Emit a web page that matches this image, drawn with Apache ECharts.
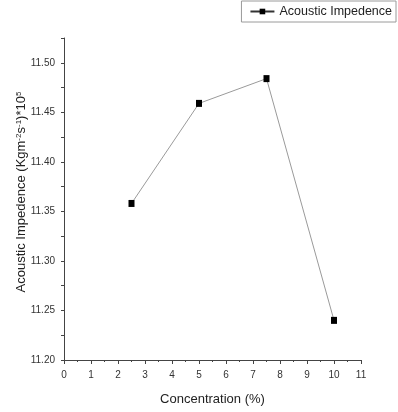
<!DOCTYPE html>
<html>
<head>
<meta charset="utf-8">
<script src="https://cdn.jsdelivr.net/npm/echarts@6/dist/echarts.min.js"></script>
<style>
  html, body { margin: 0; padding: 0; background: #fff; }
  #chart { width: 398px; height: 412px; }
</style>
</head>
<body>
<div id="chart"></div>
<script>
const concentration = [2.5, 5, 7.5, 10];
const impedance = [11.358, 11.459, 11.484, 11.240];
const seriesName = 'Acoustic Impedence';

const font = '"Liberation Sans", Arial, sans-serif';

const chart = echarts.init(document.getElementById('chart'));
chart.setOption({
  animation: false,
  textStyle: { fontFamily: font },
  legend: {
    data: [seriesName],
    right: 2,
    top: 1,
    padding: [4, 4, 4, 8],
    borderColor: '#9a9a9a',
    borderWidth: 1,
    itemWidth: 24,
    itemHeight: 7,
    itemGap: 4,
    lineStyle: { color: '#333' },
    textStyle: { fontSize: 12.5, color: '#222', fontFamily: font }
  },
  grid: { left: 64, right: 37, top: 38, bottom: 52 },
  xAxis: {
    type: 'value',
    min: 0,
    max: 11,
    interval: 1,
    name: 'Concentration (%)',
    nameLocation: 'middle',
    nameGap: 33,
    nameMoveOverlap: false,
    nameTextStyle: { fontSize: 13, color: '#222', fontFamily: font },
    axisLine: { lineStyle: { color: '#444', width: 1 } },
    axisTick: { inside: false, length: 4, lineStyle: { color: '#444' } },
    minorTick: { show: true, splitNumber: 2, length: 2, lineStyle: { color: '#444' } },
    axisLabel: { fontSize: 10, color: '#333', margin: 10, fontFamily: font },
    splitLine: { show: false }
  },
  yAxis: {
    type: 'value',
    min: 11.2,
    max: 11.525,
    interval: 0.025,
    name: '{a|Acoustic Impedence (Kgm}{s|-2}{a|s}{s|-1}{a|)*10}{s|5}',
    nameLocation: 'middle',
    nameGap: 36,
    nameMoveOverlap: false,
    nameRotate: 90,
    nameTextStyle: {
      color: '#222',
      padding: [0, 0, 0, 14],
      rich: {
        a: { fontSize: 13, color: '#222', fontFamily: font, verticalAlign: 'bottom' },
        s: { fontSize: 8, color: '#222', fontFamily: font, verticalAlign: 'top' }
      }
    },
    axisLine: { show: true, lineStyle: { color: '#444', width: 1 } },
    axisTick: { show: true, inside: false, length: 3, lineStyle: { color: '#444' } },
    axisLabel: {
      fontSize: 10,
      color: '#333',
      margin: 9,
      fontFamily: font,
      formatter: function (v) {
        const k = Math.round(v * 1000);
        return k % 50 === 0 ? v.toFixed(2) : '';
      }
    },
    splitLine: { show: false }
  },
  series: [
    {
      name: seriesName,
      type: 'line',
      data: concentration.map((c, i) => [c, impedance[i]]),
      symbol: 'rect',
      symbolSize: [6, 7],
      itemStyle: { color: '#000' },
      lineStyle: { color: '#9a9a9a', width: 1 }
    }
  ]
});
</script>
</body>
</html>
